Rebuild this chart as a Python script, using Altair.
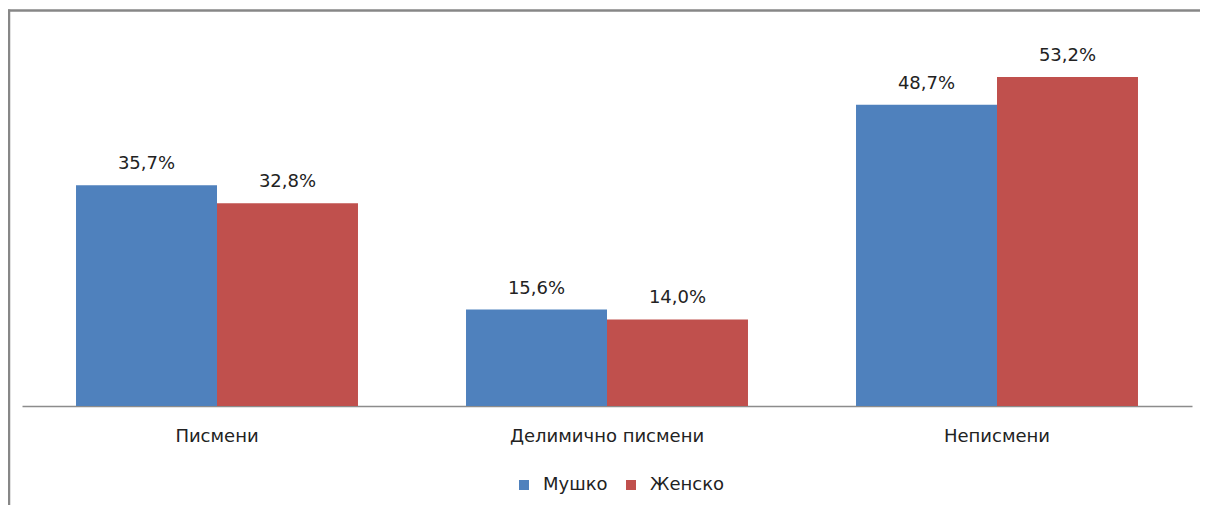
import altair as alt
import pandas as pd

categories = ["Писмени", "Делимично писмени", "Неписмени"]
series = ["Мушко", "Женско"]
male = [35.7, 15.6, 48.7]
female = [32.8, 14.0, 53.2]
colors = ["#4F81BD", "#C0504D"]

rows = []
for i, c in enumerate(categories):
    rows.append({"cat": c, "sex": series[0], "v": male[i]})
    rows.append({"cat": c, "sex": series[1], "v": female[i]})
df = pd.DataFrame(rows)

FONT = "DejaVu Sans"
TXT = "#222222"

base = alt.Chart(df).encode(
    x=alt.X("cat:N", sort=categories,
            scale=alt.Scale(paddingInner=0.277, paddingOuter=0.1385),
            axis=alt.Axis(title=None, labelAngle=0, ticks=False, domainColor="#8c8c8c",
                          domainWidth=1.5, labelFontSize=18, labelFont=FONT,
                          labelColor=TXT, labelPadding=21, labelLimit=0)),
    xOffset=alt.XOffset("sex:N", sort=series,
                        scale=alt.Scale(paddingInner=0, paddingOuter=0)),
)

bars = base.mark_bar().encode(
    y=alt.Y("v:Q", scale=alt.Scale(domain=[0, 60], nice=False), axis=None),
    color=alt.Color("sex:N", sort=series,
                    scale=alt.Scale(domain=series, range=colors),
                    legend=alt.Legend(title=None, orient="none", direction="horizontal",
                                      legendX=493, legendY=441, symbolType="square",
                                      symbolSize=100, symbolStrokeWidth=0,
                                      labelFontSize=18, labelFont=FONT, labelColor=TXT,
                                      labelOffset=10, columnPadding=14)),
)

labels = base.transform_calculate(
    lab="replace(format(datum.v, '.1f'), '.', ',') + '%'"
).mark_text(baseline="alphabetic", dy=-16, fontSize=18, font=FONT, color=TXT).encode(
    y=alt.Y("v:Q"),
    text="lab:N",
)

one = pd.DataFrame({"a": [0]})
border_left = alt.Chart(one).mark_rule(stroke="#878787", strokeWidth=2.5).encode(
    x=alt.value(-13), y=alt.value(-25.5), y2=alt.value(480)
)
border_top = alt.Chart(one).mark_rule(stroke="#878787", strokeWidth=2.5).encode(
    x=alt.value(-14), x2=alt.value(1178), y=alt.value(-24.5)
)

chart = alt.layer(bars, labels, border_left, border_top).properties(
    width=1170, height=371,
    autosize=alt.AutoSizeParams(type="none"),
    padding={"left": 14, "top": 27, "right": 8, "bottom": 99},
).configure(background="white", view=alt.ViewConfig(stroke="transparent", strokeWidth=0))

chart.save("out.html", embed_options={"renderer": "svg", "actions": False})
